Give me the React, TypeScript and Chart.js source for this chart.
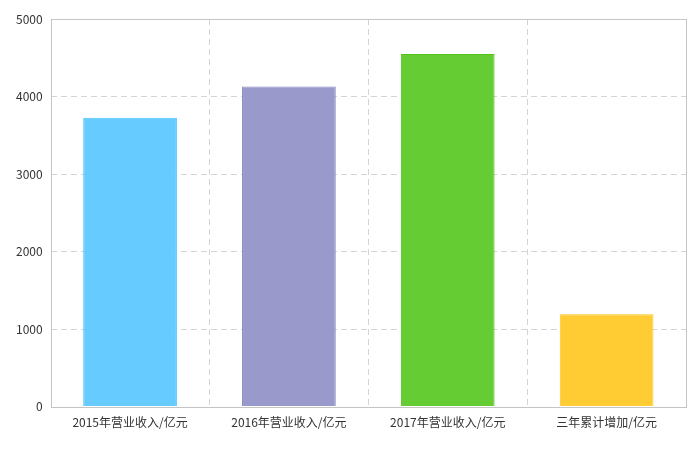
import React, { useEffect, useRef } from "react";
import { Chart, registerables } from "chart.js";

Chart.register(...registerables);

const categories = ["2015年营业收入/亿元", "2016年营业收入/亿元", "2017年营业收入/亿元", "三年累计增加/亿元"];
const values = [3727, 4128, 4548, 1190];
const fillColors = ["#66ccff", "#9999cc", "#66cc33", "#ffcc33"];
const borderColors = ["#4dc3ff", "#8585c2", "#55c21c", "#ffc21f"];
const yTicks = [0, 1000, 2000, 3000, 4000, 5000];

const frame = {
  id: "frame",
  afterDraw(chart: any) {
    const { ctx, chartArea } = chart;
    ctx.save();
    ctx.strokeStyle = "#c4c4c4";
    ctx.lineWidth = 1;
    ctx.setLineDash([]);
    ctx.strokeRect(
      Math.round(chartArea.left) + 0.5,
      Math.round(chartArea.top) + 0.5,
      Math.round(chartArea.right - chartArea.left),
      Math.round(chartArea.bottom - chartArea.top)
    );
    ctx.restore();
  },
};

export default function App() {
  const ref = useRef<HTMLCanvasElement>(null);
  useEffect(() => {
    const font = { family: "'Noto Sans CJK SC', 'Noto Sans', sans-serif", size: 12 };
    const chart = new Chart(ref.current!, {
      type: "bar",
      data: {
        labels: categories,
        datasets: [
          {
            data: values,
            backgroundColor: fillColors,
            borderColor: borderColors,
            borderWidth: 1,
            categoryPercentage: 1,
            barPercentage: 0.59,
          },
        ],
      },
      options: {
        animation: false,
        responsive: false,
        maintainAspectRatio: false,
        layout: { padding: { left: 8, right: 14, top: 19, bottom: 11 } },
        plugins: { legend: { display: false }, tooltip: { enabled: false } },
        scales: {
          x: {
            grid: {
              offset: true,
              drawTicks: false,
              color: (c: any) => (c.index === 0 || c.index === categories.length ? "rgba(0,0,0,0)" : "#d4d4d4"),
              lineWidth: 1,
            },
            border: { display: false, dash: [6, 4] },
            ticks: { color: "#333", font, padding: 9 },
          },
          y: {
            min: 0,
            max: 5000,
            afterBuildTicks: (axis: any) => {
              axis.ticks = yTicks.map((v) => ({ value: v }));
            },
            grid: {
              drawTicks: false,
              color: (c: any) => (c.tick && (c.tick.value === 0 || c.tick.value === 5000) ? "rgba(0,0,0,0)" : "#d4d4d4"),
              lineWidth: 1,
            },
            border: { display: false, dash: [6, 4] },
            ticks: { color: "#333", font, padding: 8, callback: (v: any) => String(v) },
          },
        },
      },
      plugins: [frame],
    });
    return () => chart.destroy();
  }, []);
  return (
    <div style={{ position: "fixed", left: 0, top: 0, width: 700, height: 450, background: "#fff" }}>
      <canvas ref={ref} width={700} height={450} style={{ width: 700, height: 450 }} />
    </div>
  );
}
